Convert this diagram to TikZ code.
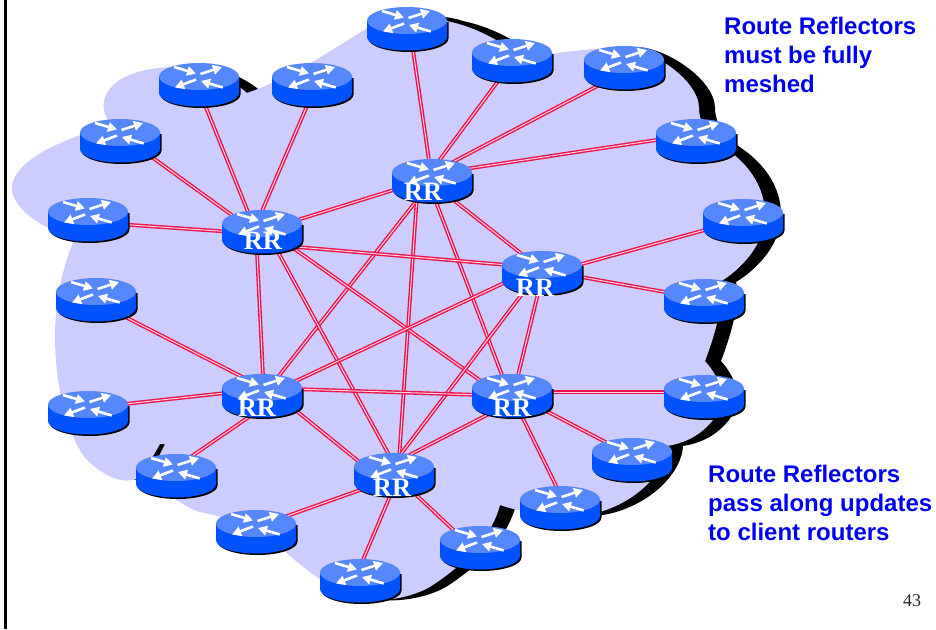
\documentclass[tikz,border=0pt]{standalone}
\usepackage{fontspec}
\setmainfont{Liberation Sans}
\newfontfamily\serifnum{Liberation Serif}
\usetikzlibrary{arrows.meta}

\definecolor{cloudblue}{HTML}{CCCCFF}
\definecolor{routertop}{HTML}{5588FF}
\definecolor{routerside}{HTML}{0052FF}
\definecolor{linkred}{HTML}{F0104A}
\definecolor{linkcore}{HTML}{FFD8E8}
\definecolor{noteblue}{HTML}{0000EE}

\newcommand{\cloudoutline}{
  (75,238) .. controls (40,228) and (12,208) .. (12,188) .. controls (12,165) and (50,142) .. (112,125)
  .. controls (92,105) and (105,68) .. (175,67) .. controls (205,66) and (230,78) .. (247,93)
  .. controls (285,80) and (325,55) .. (367,28) .. controls (395,12) and (430,15) .. (447,21)
  .. controls (470,26) and (495,36) .. (525,60)
  .. controls (535,55) and (575,50) .. (620,47) .. controls (650,47) and (699,80) .. (699,108)
  .. controls (699,120) and (705,130) .. (712,140)
  .. controls (740,155) and (765,180) .. (765,215) .. controls (765,245) and (740,270) .. (720,282)
  .. controls (725,300) and (715,335) .. (705,361)
  .. controls (722,380) and (726,400) .. (713,420) .. controls (700,436) and (685,443) .. (667,446)
  .. controls (666,470) and (640,500) .. (600,512) .. controls (570,521) and (530,515) .. (500,505)
  .. controls (492,535) and (470,560) .. (433,585) .. controls (415,597) and (385,602) .. (365,600)
  .. controls (345,598) and (310,575) .. (280,547) .. controls (262,530) and (230,518) .. (200,512)
  .. controls (185,508) and (165,492) .. (148,478)
  -- (165,444) -- (160,444) -- (145,470) -- (136,479)
  .. controls (125,483) and (110,480) .. (90,463) .. controls (70,445) and (55,390) .. (55,337)
  .. controls (55,300) and (63,265) .. (75,238) -- cycle
}

\tikzset{
  router/.pic={
    \fill[black] (-38.5,-7) -- (-38.5,9.5) arc[start angle=180, end angle=0, x radius=40, y radius=13.5] -- (41.5,-7) -- cycle;
    \fill[routerside] (-40,-8.5) -- (-40,8) arc[start angle=180, end angle=0, x radius=40, y radius=13.5] -- (40,-8.5) -- cycle;
    \fill[routertop] (0,-8.5) ellipse[x radius=40, y radius=13.5];
    \draw[routerarrow] (-25,-18) -- (-3,-11.5);
    \draw[routerarrow] (1.5,-11) -- (23,-18);
    \draw[routerarrow] (-3,-5.5) -- (-24,2.5);
    \draw[routerarrow] (23.7,2.5) -- (2,-4);
  }
}

\begin{document}
\begin{tikzpicture}[x=1pt, y=-1pt,
  routerbox/.style={inner sep=0pt, minimum size=20pt},
  routerarrow/.style={white, line width=2.6pt, -{Triangle[length=9pt, width=9.5pt]}},
  link/.style={draw=linkred, line width=1.4pt, double=linkcore, double distance=1pt},
  rrlabel/.style={white, inner sep=0pt, font=\serifnum\bfseries\fontsize{26.5}{26.5}\selectfont},
  note/.style={noteblue, align=left, anchor=north west, inner sep=0pt, font=\bfseries\fontsize{24}{29}\selectfont}]

\useasboundingbox (0,0) rectangle (936,629);

\coordinate (frametop) at (5.5,0);
\coordinate (framebottom) at (5.5,629);
\draw[line width=2.6pt] (frametop) -- (framebottom);

% cloud with its shadow
\fill[black, xshift=16pt] \cloudoutline;
\fill[cloudblue] \cloudoutline;

\foreach \x/\y/\name in {432/181/rr1, 262/232/rr2, 542/273/rr3, 262/396/rr4, 512/396/rr5, 394/475/rr6,
  407/29/c1, 512/61/c2, 624/68/c3, 696/141/c4, 743/221/c5, 704/301/c6, 704/397/c7, 632/460/c8, 560/508/c9,
  480/548/c10, 360/581/c11, 256/532/c12, 176/476/c13, 88/413/c14, 96/300/c15, 88/220/c16, 120/141/c17, 199/85/c18, 312/85/c19}
  \node[routerbox] (\name) at (\x,\y) {};

% clients
\foreach \a/\ax/\ay/\b/\bx/\by in {rr1/0/0/c1/3/0, rr1/-8/0/c2/1/0, rr1/0/-8/c3/0/4, rr1/0/-7/c4/0/-7,
  rr2/0/2/c16/0/2, rr2/0/5/c17/0/-7, rr2/-6/0/c18/-2/0, rr2/-9/0/c19/4/0,
  rr3/0/2/c5/0/-1.5, rr3/0/-3/c6/0/-2,
  rr4/0/-7/c14/0/-5, rr4/0/-9/c15/0/2, rr4/0/12/c13/0/-9,
  rr5/0/-4/c7/0/-5, rr5/0/-3/c8/0/-4, rr5/0/0/c9/7/0,
  rr6/0/3/c12/0/-5, rr6/5/0/c11/-6/0, rr6/0/-1/c10/0/7}
  \draw[link] ([shift={(\ax,\ay)}]\a.center) -- ([shift={(\bx,\by)}]\b.center);

% full mesh
\foreach \a/\ax/\ay/\b/\bx/\by in {rr1/0/-3/rr2/0/-1, rr1/0/2/rr3/0/-3, rr1/0/0/rr4/1/0, rr1/-4/0/rr5/-2/0, rr1/-14/0/rr6/4/0,
  rr2/0/12/rr3/0/-5, rr2/-6/0/rr4/2/0, rr2/0/-6/rr5/0/7, rr2/5/0/rr6/6/0,
  rr3/0/-8/rr4/0/1, rr3/1/0/rr5/1/0, rr3/-4/0/rr6/-9/0,
  rr4/0/-8/rr5/0/0, rr4/0/-13/rr6/0/15, rr5/0/6/rr6/0/-12}
  \draw[link] ([shift={(\ax,\ay)}]\a.center) -- ([shift={(\bx,\by)}]\b.center);

\foreach \name in {rr1, rr2, rr3, rr4, rr5, rr6, c1, c2, c3, c4, c5, c6, c7, c8, c9, c10, c11, c12, c13, c14, c15, c16, c17, c18, c19}
  \pic at (\name) {router};

\node[rrlabel] (rrtext1) at (423,192) {RR};
\node[rrlabel] (rrtext2) at (263,241) {RR};
\node[rrlabel] (rrtext3) at (535,288) {RR};
\node[rrlabel] (rrtext4) at (257,408) {RR};
\node[rrlabel] (rrtext5) at (512,408) {RR};
\node[rrlabel] (rrtext6) at (392,488) {RR};

\node[note] (meshnote) at (724,17) {Route Reflectors\\must be fully\\meshed};
\node[note] (passnote) at (708,465) {Route Reflectors\\pass along updates\\to client routers};
\node[inner sep=0pt, text=black!85, font=\serifnum\fontsize{18}{18}\selectfont] (pagenum) at (912,601) {43};

\end{tikzpicture}
\end{document}
